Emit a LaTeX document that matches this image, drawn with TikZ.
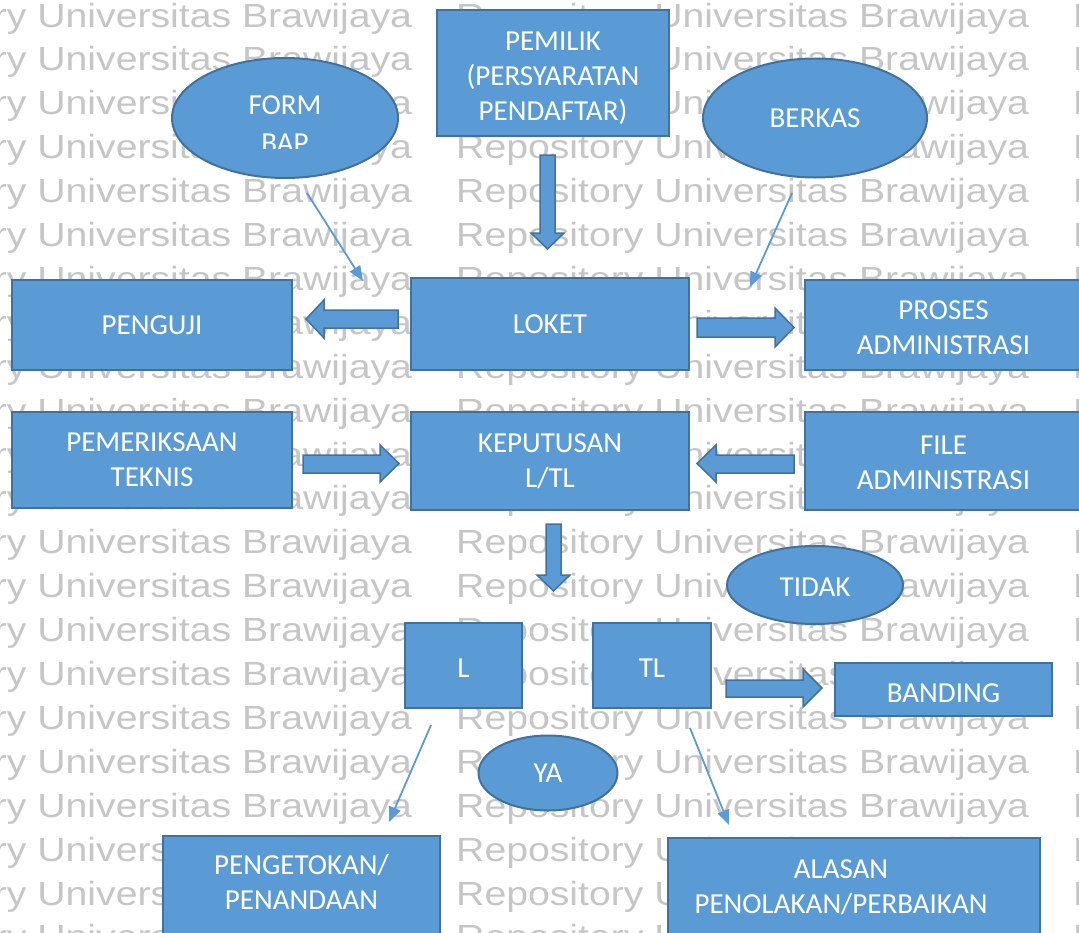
\documentclass[tikz,border=0pt]{standalone}
\usepackage{fontspec}
\setmainfont{Liberation Sans}
\newfontfamily\calibfont{Carlito}
\newfontfamily\wmfont{Liberation Sans}
\usetikzlibrary{shapes.geometric,arrows.meta}
\definecolor{boxfill}{HTML}{5B9BD5}
\definecolor{boxline}{HTML}{41719C}
\definecolor{wmgray}{HTML}{C6C6C6}

\begin{document}
\begin{tikzpicture}[x=1pt,y=-1pt,
  box/.style={rectangle, fill=boxfill, draw=boxline, line width=2pt, text=white,
    align=center, inner sep=0pt, font=\calibfont\fontsize{29}{35}\selectfont},
  boxtext/.style={text=white, align=center, inner sep=0pt,
    font=\calibfont\fontsize{29}{35}\selectfont},
  oval/.style={ellipse, fill=boxfill, draw=boxline, line width=2pt, text=white,
    align=center, inner sep=0pt, font=\calibfont\fontsize{29}{35}\selectfont},
  ovaltext/.style={text=white, align=center, inner sep=0pt,
    font=\calibfont\fontsize{29}{38}\selectfont},
  blockarrow/.style={fill=boxfill, draw=boxline, line width=1.5pt, line join=miter},
  thinarrow/.style={draw=boxfill, line width=1.8pt,
    -{Triangle[length=15pt,width=12pt]}},
  wm/.style={anchor=base west, inner sep=0pt, text=wmgray,
    font=\wmfont\fontsize{33.5}{40}\selectfont}
]
\useasboundingbox (0,0) rectangle (1079,932);
\begin{scope}
\clip (0,0) rectangle (1079,932);

% repository watermark rows
\foreach \k in {-1,...,21} {
  \foreach \cx in {-161,456,1073} {
    \node[wm] at (\cx, 27+43.9*\k) {\scalebox{1.17}[1]{Repository Universitas Brawijaya}};
  }
}

% process boxes
\node[box, minimum width=232pt, minimum height=126pt,
  label={[boxtext, yshift=-5pt]center:{PEMILIK\\(PERSYARATAN\\PENDAFTAR)}}]
  (pemilik) at (553,73) {};
\node[box, minimum width=278pt, minimum height=92pt] (loket) at (550,324) {LOKET};
\node[box, minimum width=280pt, minimum height=90pt] (penguji) at (152,325) {PENGUJI};
\node[box, minimum width=277pt, minimum height=90pt,
  label={[boxtext, yshift=-3pt]center:{PROSES\\ADMINISTRASI}}]
  (proses) at (943.5,325) {};
\node[box, minimum width=280pt, minimum height=96pt] (pemeriksaan) at (152,460)
  {PEMERIKSAAN\\TEKNIS};
\node[box, minimum width=278pt, minimum height=98pt] (keputusan) at (550,461)
  {KEPUTUSAN\\L/TL};
\node[box, minimum width=277pt, minimum height=98pt,
  label={[boxtext, yshift=-2pt]center:{FILE\\ADMINISTRASI}}]
  (file) at (943.5,461) {};
\node[box, minimum width=117pt, minimum height=85pt,
  label={[boxtext, yshift=-3pt]center:L}] (lulus) at (463.5,665.5) {};
\node[box, minimum width=118pt, minimum height=85pt,
  label={[boxtext, yshift=-3pt]center:TL}] (tidaklulus) at (652,665.5) {};
\node[box, minimum width=217pt, minimum height=53pt,
  label={[boxtext, yshift=-4pt]center:BANDING}] (banding) at (943.5,689.5) {};
\node[box, minimum width=277pt, minimum height=98pt,
  label={[boxtext, yshift=3pt]center:{PENGETOKAN/\\PENANDAAN}}]
  (pengetokan) at (301.5,885) {};
\node[box, minimum width=372pt, minimum height=98pt,
  label={[boxtext, xshift=-13pt]center:{ALASAN\\PENOLAKAN/PERBAIKAN}}]
  (alasan) at (854,887) {};

% ovals
\node[oval, minimum width=226pt, minimum height=120pt] (formbap) at (285,118) {};
\begin{scope}
  \clip (172,58) rectangle (398,148);
  \node[ovaltext] (formbaptext) at (285,124) {FORM\\BAP};
\end{scope}
\node[oval, minimum width=224pt, minimum height=119pt] (berkas) at (815,118) {BERKAS};
\node[oval, minimum width=176pt, minimum height=78pt,
  label={[boxtext, yshift=-2pt]center:TIDAK}] (tidak) at (815,585) {};
\node[oval, minimum width=139pt, minimum height=75pt] (ya) at (548,773) {YA};

% block arrows
\draw[blockarrow] (540,155) -- (555,155) -- (555,233) -- (564,233) -- (547.5,249)
  -- (531,233) -- (540,233) -- cycle;
\draw[blockarrow] (398,310) -- (398,328) -- (324,328) -- (324,338) -- (306,319)
  -- (324,300) -- (324,310) -- cycle;
\draw[blockarrow] (697,318) -- (775,318) -- (775,308) -- (794,327.5) -- (775,347)
  -- (775,337) -- (697,337) -- cycle;
\draw[blockarrow] (303,455) -- (380,455) -- (380,445) -- (399,463.5) -- (380,482)
  -- (380,473) -- (303,473) -- cycle;
\draw[blockarrow] (794,455) -- (794,473) -- (716,473) -- (716,482) -- (697,463.5)
  -- (716,445) -- (716,455) -- cycle;
\draw[blockarrow] (546,524) -- (561,524) -- (561,575) -- (570,575) -- (553.5,591)
  -- (537,575) -- (546,575) -- cycle;
\draw[blockarrow] (726,680) -- (803,680) -- (803,669) -- (822,688) -- (803,707)
  -- (803,697) -- (726,697) -- cycle;

% thin connectors
\coordinate (bapfrom) at (307,193);
\coordinate (bapto) at (363,281);
\coordinate (berkasfrom) at (792,193);
\coordinate (berkasto) at (750,287);
\coordinate (lfrom) at (431,725);
\coordinate (lto) at (389,822);
\coordinate (tlfrom) at (690,728);
\coordinate (tlto) at (729,825);
\draw[thinarrow] (bapfrom) -- (bapto);
\draw[thinarrow] (berkasfrom) -- (berkasto);
\draw[thinarrow] (lfrom) -- (lto);
\draw[thinarrow] (tlfrom) -- (tlto);
\end{scope}
\end{tikzpicture}
\end{document}
